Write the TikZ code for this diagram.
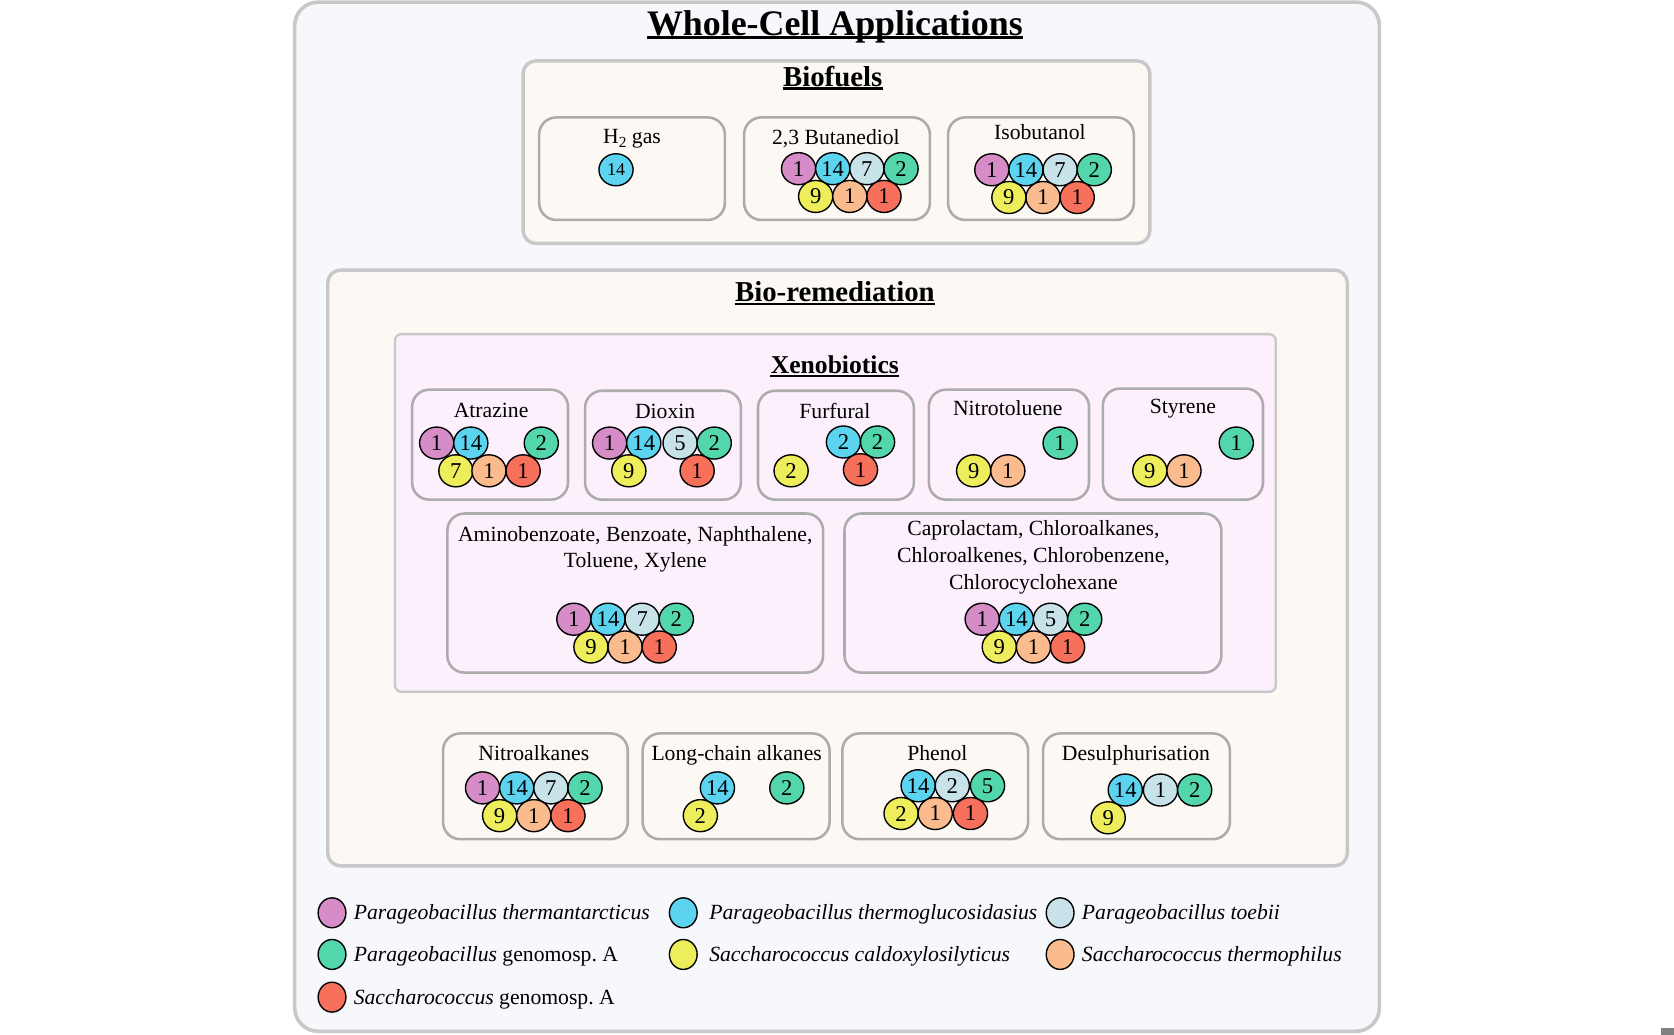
\documentclass[tikz,border=0pt]{standalone}
\usepackage{fontspec}
\setmainfont{Liberation Serif}
\usetikzlibrary{shapes.geometric}
\frenchspacing
\definecolor{cP}{RGB}{214,140,198}
\definecolor{cB}{RGB}{92,212,240}
\definecolor{cL}{RGB}{200,226,234}
\definecolor{cG}{RGB}{84,214,172}
\definecolor{cY}{RGB}{238,238,92}
\definecolor{cO}{RGB}{250,188,142}
\definecolor{cR}{RGB}{246,112,92}
\definecolor{bgOuter}{RGB}{247,248,252}
\definecolor{bgBeige}{RGB}{252,248,243}
\definecolor{bgPink}{RGB}{252,240,252}
\definecolor{lnOuter}{RGB}{200,200,200}
\definecolor{lnBox}{RGB}{172,172,172}
\definecolor{artGray}{RGB}{128,128,128}
\tikzset{
 bub/.style={ellipse, draw=black, line width=0.65pt, minimum width=16pt, minimum height=15pt, inner sep=0pt, font=\fontsize{10.6}{12}\selectfont},
 smallbub/.style={bub, font=\fontsize{8.4}{10}\selectfont},
 legbub/.style={ellipse, draw=black, line width=0.65pt, minimum width=13pt, minimum height=14pt, inner sep=0pt},
 outerbox/.style={draw=lnOuter, fill=bgOuter, line width=1.7pt, rounded corners=11pt},
 secbox/.style={draw=lnOuter, fill=bgBeige, line width=1.6pt, rounded corners=6pt},
 xenobox/.style={draw=lnOuter, fill=bgPink, line width=1.1pt, rounded corners=3pt},
 itembox/.style={draw=lnBox, line width=1.2pt, rounded corners=8pt},
 lab/.style={anchor=base, yshift=-3.3pt, inner sep=0pt, font=\fontsize{10.15}{12.5}\selectfont},
 mlab/.style={anchor=north, inner sep=0pt, align=center, font=\fontsize{10.15}{12.5}\selectfont},
 leglab/.style={anchor=base west, yshift=-3.3pt, inner sep=0pt, font=\fontsize{10.15}{12.5}\selectfont},
 titlelab/.style={anchor=base, yshift=-5.5pt, inner sep=0pt, font=\fontsize{16.8}{20}\selectfont\bfseries},
 headlab/.style={anchor=base, yshift=-4.4pt, inner sep=0pt, font=\fontsize{13.5}{16}\selectfont\bfseries},
 xenolab/.style={anchor=base, yshift=-4pt, inner sep=0pt, font=\fontsize{12}{14}\selectfont\bfseries},
}
\newcommand\bub[4]{\node[bub,fill=#3] (#1) at (#2) {#4};}
\newcommand\clus[4]{%
 \begin{scope}[shift={(#2,#3)}]
 \node[bub,fill=cP] (#1a) at (0,0) {1};
 \node[bub,fill=cB] (#1b) at (32,0) {14};
 \node[bub,fill=cL] (#1c) at (64,0) {#4};
 \node[bub,fill=cG] (#1d) at (96,0) {2};
 \node[bub,fill=cY] (#1e) at (16,26) {9};
 \node[bub,fill=cO] (#1f) at (48,26) {1};
 \node[bub,fill=cR] (#1g) at (80,26) {1};
 \end{scope}}
\newcommand\uline[2]{\draw[line width=#2] ([yshift=-0.11em]#1.base west) -- ([yshift=-0.11em]#1.base east);}
\newcommand\lowsub[1]{\raisebox{-0.4ex}{\fontsize{7.2}{8}\selectfont #1}}
\begin{document}
\begin{tikzpicture}[x=0.5pt,y=-0.5pt]
\useasboundingbox (0,0) rectangle (1568,969);
% frames
\draw[outerbox] (276,2) rectangle (1292,966);
\draw[secbox] (490,57) rectangle (1077,228);
\draw[secbox] (307,253) rectangle (1262,811);
\draw[xenobox] (370,313) rectangle (1195,648);
% item boxes
\draw[itembox] (505,110) rectangle (679,206);
\draw[itembox] (697,110) rectangle (871,206);
\draw[itembox] (888,110) rectangle (1062,206);
\draw[itembox] (386,365) rectangle (532,468);
\draw[itembox] (548,366) rectangle (694,468);
\draw[itembox] (710,366) rectangle (856,468);
\draw[itembox] (870,365) rectangle (1020,468);
\draw[itembox] (1033,364) rectangle (1183,468);
\draw[itembox] (419,481) rectangle (771,630);
\draw[itembox] (791,481) rectangle (1144,630);
\draw[itembox] (415,687) rectangle (588,786);
\draw[itembox] (602,687) rectangle (777,786);
\draw[itembox] (789,687) rectangle (963,786);
\draw[itembox] (977,687) rectangle (1152,786);
% headings
\node[titlelab] (title) at (782,22) {Whole-Cell Applications};
\uline{title}{1.4pt}
\node[headlab] (biof) at (780,72) {Biofuels};
\uline{biof}{1.1pt}
\node[headlab] (biorem) at (782,274) {Bio-remediation};
\uline{biorem}{1.1pt}
\node[xenolab] (xeno) at (782,342) {Xenobiotics};
\uline{xeno}{1pt}
% item labels
\node[lab] (lH) at (592,128) {H\lowsub{2} gas};
\node[lab] (lBd) at (783,129) {2,3 Butanediol};
\node[lab] (lIso) at (974,124) {Isobutanol};
\node[lab] (lAtr) at (460,384) {Atrazine};
\node[lab] (lDio) at (623,385) {Dioxin};
\node[lab] (lFur) at (782,385) {Furfural};
\node[lab] (lNit) at (944,383) {Nitrotoluene};
\node[lab] (lSty) at (1108,381) {Styrene};
\node[mlab] (lAmi) at (595,492.5) {Aminobenzoate, Benzoate, Naphthalene,\\Toluene, Xylene};
\node[mlab] (lCap) at (968,487.5) {Caprolactam, Chloroalkanes,\\Chloroalkenes, Chlorobenzene,\\Chlorocyclohexane};
\node[lab] (lNal) at (500,706) {Nitroalkanes};
\node[lab] (lLca) at (690,706) {Long-chain alkanes};
\node[lab] (lPhe) at (878,706) {Phenol};
\node[lab] (lDes) at (1064,706) {Desulphurisation};
% biofuels bubbles
\node[smallbub,fill=cB] (hA) at (577,159) {14};
\clus{bd}{748}{158}{7}
\clus{iso}{929}{159}{7}
% xenobiotics bubbles
\bub{atrA}{409,415}{cP}{1}
\bub{atrB}{441,415}{cB}{14}
\bub{atrC}{507,415}{cG}{2}
\bub{atrD}{427,441}{cY}{7}
\bub{atrE}{458,441}{cO}{1}
\bub{atrF}{490,441}{cR}{1}
\bub{dioA}{571,415}{cP}{1}
\bub{dioB}{603,415}{cB}{14}
\bub{dioC}{637,415}{cL}{5}
\bub{dioD}{669,415}{cG}{2}
\bub{dioE}{589,441}{cY}{9}
\bub{dioF}{653,441}{cR}{1}
\bub{furA}{790,414}{cB}{2}
\bub{furB}{822,414}{cG}{2}
\bub{furC}{741,441}{cY}{2}
\bub{furD}{806,440}{cR}{1}
\bub{nitA}{993,415}{cG}{1}
\bub{nitB}{912,441}{cY}{9}
\bub{nitC}{944,441}{cO}{1}
\bub{styA}{1158,415}{cG}{1}
\bub{styB}{1077,441}{cY}{9}
\bub{styC}{1109,441}{cO}{1}
\clus{ami}{537.5}{580}{7}
\clus{cap}{920}{580}{5}
% bottom row bubbles
\clus{nal}{452}{738}{7}
\bub{lcaA}{672,738}{cB}{14}
\bub{lcaB}{737,738}{cG}{2}
\bub{lcaC}{656,764}{cY}{2}
\bub{pheA}{860,736}{cB}{14}
\bub{pheB}{892,736}{cL}{2}
\bub{pheC}{925,736}{cG}{5}
\bub{pheD}{844,762}{cY}{2}
\bub{pheE}{876,762}{cO}{1}
\bub{pheF}{909,762}{cR}{1}
\bub{desA}{1054,740}{cB}{14}
\bub{desB}{1087,740}{cL}{1}
\bub{desC}{1119,740}{cG}{2}
\bub{desD}{1038,766}{cY}{9}
% legend
\node[legbub,fill=cP] (kP) at (311,855) {};
\node[leglab] (tP) at (331,855) {\itshape Parageobacillus thermantarcticus};
\node[legbub,fill=cB] (kB) at (640,855) {};
\node[leglab] (tB) at (664,855) {\itshape Parageobacillus thermoglucosidasius};
\node[legbub,fill=cL] (kL) at (993,855) {};
\node[leglab] (tL) at (1013,855) {\itshape Parageobacillus toebii};
\node[legbub,fill=cG] (kG) at (311,894) {};
\node[leglab] (tG) at (331,894) {\textit{Parageobacillus} genomosp. A};
\node[legbub,fill=cY] (kY) at (640,894) {};
\node[leglab] (tY) at (664,894) {\itshape Saccharococcus caldoxylosilyticus};
\node[legbub,fill=cO] (kO) at (993,894) {};
\node[leglab] (tO) at (1013,894) {\itshape Saccharococcus thermophilus};
\node[legbub,fill=cR] (kR) at (311,934) {};
\node[leglab] (tR) at (331,934) {\textit{Saccharococcus} genomosp. A};
% corner mark
\fill[artGray] (1556,963) rectangle (1568,969);
\end{tikzpicture}
\end{document}
